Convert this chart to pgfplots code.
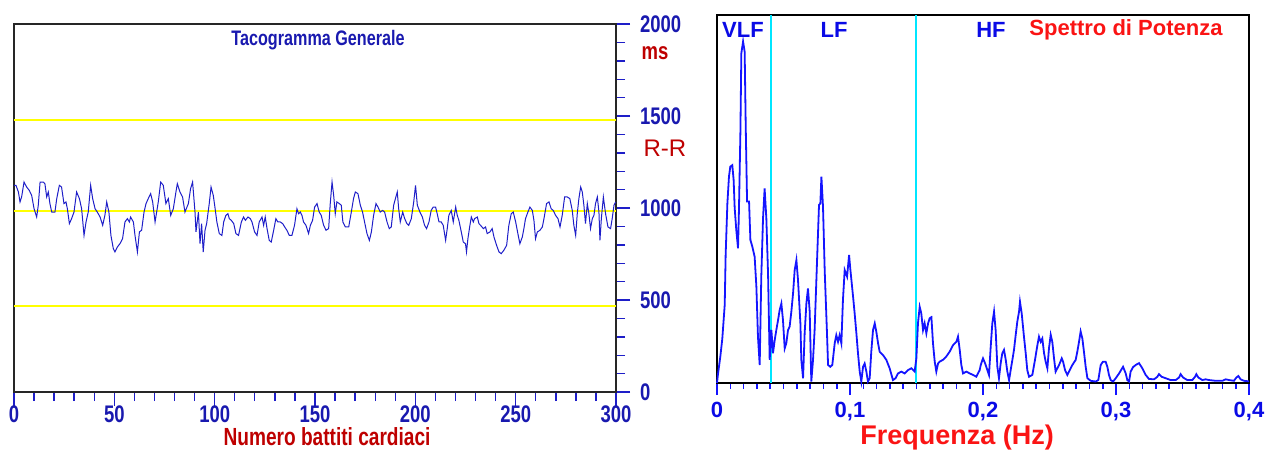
\documentclass[border=0pt]{standalone}
\usepackage{pgfplots}
\pgfplotsset{compat=1.18}
\usepackage{fontspec}
\setmainfont{Liberation Sans}
\newfontfamily\narrowfont[FakeStretch=0.77]{Liberation Sans}
\definecolor{lblue}{RGB}{25,25,175}
\definecolor{sblue}{RGB}{30,30,200}
\definecolor{rblue}{RGB}{20,20,255}
\definecolor{tblue}{RGB}{10,10,230}
\definecolor{dred}{RGB}{190,0,0}
\definecolor{bred}{RGB}{250,20,20}
\definecolor{yel}{RGB}{255,255,0}
\definecolor{cya}{RGB}{0,230,255}
\begin{document}
\begin{tikzpicture}
\useasboundingbox (0,0) rectangle (634.5pt,225.5pt);
% ---------------- left panel ----------------
\begin{axis}[at={(7pt,29.5pt)}, anchor=south west,
  width=301pt, height=184pt, scale only axis,
  xmin=0, xmax=300, ymin=0, ymax=2000,
  clip=false,
  axis line style={black!85, line width=0.75pt},
  xtick={0,50,...,300}, minor x tick num=4,
  ytick={0,500,1000,1500,2000}, minor y tick num=4,
  xticklabels={0,50,100,150,200,250,300},
  yticklabels={0,500,1000,1500,2000},
  xtick pos=bottom, ytick pos=right,
  tick align=outside,
  major tick length=7pt, minor tick length=4.5pt,
  every tick/.style={sblue, line width=0.7pt},
  xticklabel style={font=\narrowfont\bfseries\fontsize{12}{12}\selectfont, text=lblue, yshift=3.5pt},
  yticklabel style={font=\narrowfont\bfseries\fontsize{12}{12}\selectfont, text=lblue, anchor=west, xshift=1.5pt},
  /pgf/number format/assume math mode=true,
]
\addplot[yel, line width=1pt] coordinates {(0,1480)(300,1480)};
\addplot[yel, line width=1pt] coordinates {(0,985)(300,985)};
\addplot[yel, line width=1pt] coordinates {(0,470)(300,470)};
\addplot[sblue, line width=0.5pt] coordinates {
(0,1123)(1.0,1123)(2.2,1087)(3.0,1033)(3.8,1060)(5.0,1141)(6.3,1114)(7.6,1096)(8.8,1069)(10.0,996)(11.3,951)(12.1,1015)(13.0,1141)(14.6,1141)(15.4,1132)(16.3,1060)(17.1,1087)(17.9,1024)(18.8,978)(20.4,978)(21.3,1051)(22.6,1123)(23.7,1114)(24.9,1024)(25.9,1033)(26.6,996)(27.6,915)(28.7,942)(29.9,978)(31.2,1087)(32.6,1051)(33.7,996)(34.9,851)(35.9,924)(37.0,978)(38.2,1123)(39.2,1051)(40.4,996)(41.5,978)(42.9,951)(44.2,906)(45.3,960)(46.2,1033)(47.3,978)(48.3,851)(49.5,779)(50.3,761)(51.5,788)(52.8,806)(54.1,833)(55.3,924)(56.5,942)(57.5,924)(58.1,951)(59.5,924)(60.3,851)(61.5,761)(62.5,870)(63.6,879)(64.8,978)(65.8,1024)(66.9,1051)(68.1,1078)(69.1,1033)(70.3,924)(71.9,1033)(73.1,1141)(74.4,1123)(75.7,1024)(76.9,1051)(78.1,960)(79.4,996)(80.7,1087)(81.4,1132)(82.7,1087)(84.0,1060)(85.2,978)(86.9,1024)(88.0,1105)(89.0,1141)(90.2,978)(90.7,870)(91.9,978)(92.7,806)(93.5,915)(94.3,761)(95.2,879)(96.0,915)(97.3,1024)(98.2,1114)(99.3,1069)
(100.0,1015)(101.1,924)(102.3,861)(103.6,851)(104.5,924)(105.6,960)(106.6,969)(107.3,942)(108.3,933)(109.5,915)(110.6,861)(111.9,851)(113.3,924)(114.4,951)(115.3,933)(116.6,951)(117.8,942)(118.6,924)(119.9,870)(121.1,851)(122.2,924)(123.6,951)(124.4,906)(125.2,951)(126.1,888)(127.2,824)(128.2,815)(129.4,879)(130.5,942)(131.5,924)(132.7,924)(133.9,915)(134.9,897)(136.0,879)(137.2,851)(138.5,851)(139.8,906)(141.0,996)(141.8,969)(142.7,978)(143.5,960)(144.3,924)(145.5,906)(146.8,861)(147.7,906)(148.8,933)(149.8,1005)(151.0,1024)(152.1,978)(153.1,960)(154.3,906)(155.5,879)(156.8,888)(157.6,1024)(158.5,1141)(159.3,1069)(160.1,969)(160.9,1033)(162.1,1024)(163.1,1015)(163.9,924)(165.1,897)(166.8,897)(168.1,978)(169.2,1051)(170.1,1087)(171.4,1078)(172.6,1015)(173.7,978)(174.7,924)(175.9,861)(177.1,824)(178.1,870)(179.2,960)(180.4,1024)(181.4,1005)(182.5,978)(183.7,987)(184.7,978)(185.9,924)(187.0,888)(188.0,897)(189.2,1015)(190.3,1060)(191.0,1087)(191.7,996)(192.5,924)(193.7,978)(194.7,942)(195.8,915)(196.7,906)(198.0,942)(199.2,1033)
(200.1,1123)(201.0,1015)(202.3,978)(203.5,951)(204.6,906)(205.6,888)(206.8,924)(207.9,987)(208.9,1005)(210.1,1005)(210.9,969)(211.8,924)(212.9,924)(213.9,906)(215.1,824)(215.9,888)(216.7,960)(217.9,987)(218.9,924)(220.1,1005)(220.9,960)(221.7,933)(222.9,870)(223.9,815)(225.0,806)(225.5,761)(226.2,833)(227.2,906)(227.9,951)(228.9,924)(229.5,942)(230.9,951)(231.7,915)(232.5,906)(233.9,888)(235.0,897)(235.8,861)(237.2,870)(238.3,888)(239.2,842)(240.5,797)(241.7,761)(242.8,752)(244.1,770)(245.5,797)(246.6,906)(247.8,969)(248.8,978)(250.0,924)(251.1,861)(252.1,806)(253.3,842)(254.1,888)(254.9,942)(256.1,978)(257.1,1005)(258.3,987)(259.1,933)(259.9,833)(260.8,870)(262.1,879)(263.3,897)(264.1,942)(265.4,1024)(266.6,1033)(267.7,996)(268.7,987)(269.9,960)(271.1,942)(272.1,897)(273.2,960)(274.4,1060)(275.7,1060)(277.0,1051)(278.2,987)(279.0,906)(279.9,851)(280.7,969)(281.5,1051)(282.4,1114)(283.2,1087)(284.0,1015)(284.8,915)(285.7,1024)(286.5,969)(287.3,888)(288.2,942)(289.0,960)(289.8,1024)(290.7,1060)(291.5,978)(292.0,824)(292.7,942)(293.7,1060)(294.8,969)(296.0,897)(297.3,888)(298.1,942)(299.0,1015)(299.8,1033)
};
\node[font=\narrowfont\bfseries\fontsize{10.5}{11}\selectfont, text=lblue] at (axis cs:151.5,1913) {Tacogramma Generale};
\node[font=\narrowfont\bfseries\fontsize{12}{12}\selectfont, text=dred] at (axis cs:319.4,1842) {ms};
\node[font=\fontsize{12}{12}\selectfont, text=dred] at (axis cs:324.4,1326) {R-R};
\node[font=\narrowfont\bfseries\fontsize{12.4}{13}\selectfont, text=dred, inner sep=0pt] at (axis cs:156,-245) {Numero battiti cardiaci};
\end{axis}
% ---------------- right panel ----------------
\begin{axis}[at={(358.5pt,34pt)}, anchor=south west,
  width=266pt, height=184pt, scale only axis,
  xmin=0, xmax=0.4, ymin=0, ymax=100,
  clip=false,
  axis line style={black, line width=1pt},
  xtick={0,0.1,0.2,0.3,0.4}, minor x tick num=9,
  xticklabels={0,{0,1},{0,2},{0,3},{0,4}},
  ytick=\empty,
  xtick pos=bottom,
  tick align=outside,
  major tick length=6pt, minor tick length=3pt,
  every tick/.style={rblue, line width=0.8pt},
  xticklabel style={font=\bfseries\fontsize{11}{11}\selectfont, text=tblue},
  /pgf/number format/assume math mode=true,
]
\addplot[cya, line width=1pt] coordinates {(0.0406,0)(0.0406,100)};
\addplot[cya, line width=1pt] coordinates {(0.1496,0)(0.1496,100)};
\addplot[rblue, line width=0.9pt] coordinates {
(0.0000,0)(0.0008,2.6)(0.0025,7.2)(0.0040,12.1)(0.0058,21.2)(0.0065,34.8)(0.0078,48.8)(0.0090,56.1)(0.0100,58.8)(0.0115,59.2)(0.0125,55.2)(0.0133,47.5)(0.0145,41.6)(0.0158,36.6)(0.0165,47.0)(0.0176,68.3)(0.0183,89.6)(0.0196,92.8)(0.0208,90.0)(0.0216,69.7)(0.0226,49.3)(0.0241,49.3)(0.0251,38.9)(0.0266,37.0)(0.0283,34.3)(0.0296,26.2)(0.0308,12.6)(0.0321,4.9)(0.0333,28.9)(0.0346,44.7)(0.0358,52.9)(0.0371,44.7)(0.0384,29.4)(0.0396,6.3)(0.0409,14.4)(0.0421,8.1)(0.0434,11.7)(0.0446,14.4)(0.0459,17.1)(0.0471,19.8)(0.0484,21.6)(0.0496,17.1)(0.0509,9.4)(0.0521,10.8)(0.0534,14.4)(0.0546,15.3)(0.0559,19.4)(0.0572,24.4)(0.0584,30.7)(0.0597,33.4)(0.0609,28.0)(0.0627,16.2)(0.0634,6.3)(0.0647,1.3)(0.0659,13.5)(0.0672,21.6)(0.0684,25.7)(0.0697,19.4)(0.0709,0.4)(0.0722,6.3)(0.0734,14.4)(0.0752,33.0)(0.0767,48.4)(0.0777,48.8)(0.0785,56.1)(0.0797,47.9)(0.0810,30.3)(0.0827,13.5)(0.0835,4.9)(0.0852,4.4)(0.0867,4.9)(0.0885,10.8)(0.0897,13.0)(0.0910,11.2)(0.0922,13.0)(0.0935,10.8)(0.0947,22.6)(0.0960,30.7)(0.0978,28.9)(0.0993,34.8)(0.1003,30.7)(0.1023,23.5)(0.1035,18.9)(0.1048,13.5)(0.1060,8.1)(0.1073,3.1)(0.1085,0.4)(0.1098,4.4)(0.1110,5.3)(0.1123,3.1)(0.1135,0.4)(0.1148,1.3)(0.1160,8.5)(0.1173,14.4)(0.1186,16.2)(0.1198,13.9)(0.1211,10.8)(0.1223,8.5)(0.1248,7.6)(0.1273,6.3)(0.1298,4.0)(0.1323,0.8)(0.1343,1.3)(0.1361,2.6)(0.1386,3.1)(0.1411,2.6)(0.1436,3.5)(0.1461,4.0)(0.1486,3.1)(0.1499,6.7)(0.1511,16.2)(0.1524,20.7)(0.1536,18.9)(0.1549,14.4)(0.1561,16.2)(0.1574,13.5)(0.1587,16.2)(0.1599,17.6)(0.1612,17.9)(0.1624,10.8)(0.1637,5.8)(0.1649,3.1)(0.1662,5.3)(0.1674,5.8)(0.1699,6.3)(0.1724,7.2)(0.1749,8.5)(0.1775,10.3)(0.1800,11.2)(0.1812,12.6)(0.1825,9.0)(0.1837,4.9)(0.1850,2.6)(0.1875,3.1)(0.1900,2.6)(0.1925,2.2)(0.1950,1.7)(0.1975,3.5)
(0.1983,4.9)(0.2000,6.7)(0.2015,5.4)(0.2033,3.5)(0.2045,2.2)(0.2058,9.9)(0.2070,16.2)(0.2083,19.4)(0.2095,14.4)(0.2108,4.4)(0.2120,1.3)(0.2133,5.4)(0.2145,8.1)(0.2158,9.0)(0.2171,6.3)(0.2183,3.1)(0.2196,0.8)(0.2208,3.5)(0.2221,6.3)(0.2233,9.0)(0.2246,13.1)(0.2258,16.7)(0.2271,19.4)(0.2278,22.1)(0.2291,18.9)(0.2308,12.6)(0.2321,8.1)(0.2333,3.5)(0.2346,1.7)(0.2371,2.2)(0.2391,6.3)(0.2409,10.3)(0.2421,12.6)(0.2434,11.2)(0.2446,12.1)(0.2459,8.1)(0.2471,5.8)(0.2484,4.0)(0.2496,9.4)(0.2509,13.1)(0.2521,11.2)(0.2534,6.7)(0.2546,3.1)(0.2559,4.0)(0.2572,4.9)(0.2592,6.7)(0.2602,5.8)(0.2617,3.5)(0.2634,2.2)(0.2652,3.5)(0.2672,4.9)(0.2697,6.3)(0.2709,8.5)(0.2722,11.2)(0.2734,14.0)(0.2747,12.1)(0.2759,8.5)(0.2772,4.4)(0.2785,1.3)(0.2810,0.6)(0.2847,0.4)(0.2867,0.8)(0.2885,4.9)(0.2902,5.8)(0.2922,5.8)(0.2935,4.4)(0.2947,2.2)(0.2960,0.8)(0.2978,0.4)(0.2998,1.3)(0.3023,2.6)(0.3053,4.4)(0.3073,2.6)(0.3085,0.8)(0.3098,0.4)(0.3110,3.1)(0.3128,4.3)(0.3148,4.9)(0.3173,5.4)(0.3198,4.0)(0.3223,2.2)(0.3248,1.1)(0.3286,1.0)(0.3311,1.7)(0.3323,2.4)(0.3343,1.7)(0.3373,1.3)(0.3411,0.8)(0.3449,0.8)(0.3474,1.5)(0.3486,2.4)(0.3504,1.5)(0.3536,0.8)(0.3574,0.8)(0.3594,1.7)(0.3604,2.4)(0.3619,1.5)(0.3649,0.8)(0.3674,1.0)(0.3699,0.8)(0.3749,0.6)(0.3800,0.6)(0.3825,1.0)(0.3850,0.8)(0.3887,0.6)(0.3905,1.5)(0.3920,1.9)(0.3937,1.0)(0.3962,0.6)(0.3987,0.5)(0.4000,0.5)
};
\node[font=\bfseries\fontsize{11}{11}\selectfont, text=tblue] at (axis cs:0.0195,95.9) {VLF};
\node[font=\bfseries\fontsize{11}{11}\selectfont, text=tblue] at (axis cs:0.088,95.9) {LF};
\node[font=\bfseries\fontsize{11}{11}\selectfont, text=tblue] at (axis cs:0.206,95.9) {HF};
\node[font=\bfseries\fontsize{11}{11}\selectfont, text=bred] at (axis cs:0.3075,95.9) {Spettro di Potenza};
\node[font=\bfseries\fontsize{13.5}{14}\selectfont, text=bred] at (axis cs:0.1805,-14.7) {Frequenza (Hz)};
\end{axis}
\end{tikzpicture}
\end{document}
